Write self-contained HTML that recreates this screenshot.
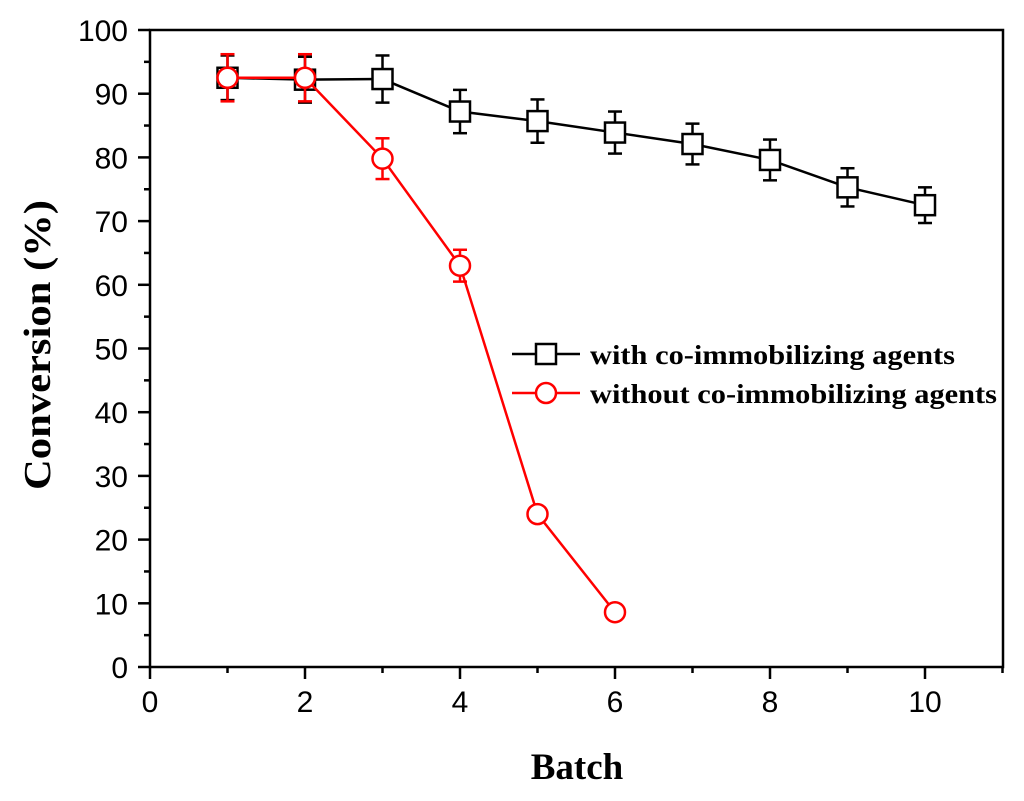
<!DOCTYPE html>
<html><head><meta charset="utf-8"><style>body{margin:0;background:#fff}svg{display:block}</style></head>
<body>
<svg id="chart" width="1024" height="801" xmlns="http://www.w3.org/2000/svg"></svg>
<script>
const batches = [1,2,3,4,5,6,7,8,9,10];
const withAgents = [92.5,92.2,92.3,87.2,85.7,83.9,82.1,79.6,75.3,72.5];
const withErr = [3.5,3.6,3.7,3.4,3.4,3.3,3.2,3.2,3.0,2.8];
const batchesRed = [1,2,3,4,5,6];
const withoutAgents = [92.5,92.5,79.8,63.0,24.0,8.6];
const withoutErr = [3.7,3.7,3.2,2.5,0.8,0.8];
const xTicks = [0,2,4,6,8,10];
const yTicks = [0,10,20,30,40,50,60,70,80,90,100];

const L=150,R=1003,T=30,B=667;
const X=v=>L+v*77.5, Y=v=>B-(v/100)*(B-T);
const svg=document.getElementById('chart');
const NS='http://www.w3.org/2000/svg';
function mk(tag,attrs,name,parent){const e=document.createElementNS(NS,tag);for(const k in attrs)e.setAttribute(k,attrs[k]);


(parent||svg).appendChild(e);return e;}

mk('rect',{x:L,y:T,width:R-L,height:B-T,fill:'none',stroke:'#000','stroke-width':2.5},'plot-frame');
for(let v=0;v<=11;v++){const len=v%2===0?12:6;mk('line',{x1:X(v),x2:X(v),y1:B,y2:B+len,stroke:'#000','stroke-width':2.5},'x-tick');}
for(let v=0;v<=100;v+=5){const len=v%10===0?12:6;mk('line',{x1:L,x2:L-len,y1:Y(v),y2:Y(v),stroke:'#000','stroke-width':2.5},'y-tick');}
xTicks.forEach(v=>{const t=mk('text',{x:X(v),y:B+45,'text-anchor':'middle','font-family':'Liberation Sans, sans-serif','font-size':30},'x-tick-label');t.textContent=v;});
yTicks.forEach(v=>{const t=mk('text',{x:L-22,y:Y(v)+11,'text-anchor':'end','font-family':'Liberation Sans, sans-serif','font-size':30},'y-tick-label');t.textContent=v;});
let t=mk('text',{x:577,y:779,'text-anchor':'middle','font-family':'Liberation Serif, serif','font-weight':'bold','font-size':37},'x-axis-title');t.textContent='Batch';
t=mk('text',{x:0,y:0,transform:'translate(50,345) rotate(-90)','text-anchor':'middle','font-family':'Liberation Serif, serif','font-weight':'bold','font-size':38,'textLength':290,'lengthAdjust':'spacingAndGlyphs'},'y-axis-title');t.textContent='Conversion (%)';

function series(xs,ys,es,color,shape,name){
  const g=mk('g',{},name+'-series');
  mk('polyline',{points:xs.map((x,i)=>X(x)+','+Y(ys[i])).join(' '),fill:'none',stroke:color,'stroke-width':2.5},name+'-line',g);
  xs.forEach((x,i)=>{
    const cx=X(x),cy=Y(ys[i]),y1=Y(ys[i]+es[i]),y2=Y(ys[i]-es[i]);
    mk('line',{x1:cx,x2:cx,y1:y1,y2:y2,stroke:color,'stroke-width':2.5},name+'-error-bar',g);
    mk('line',{x1:cx-7,x2:cx+7,y1:y1,y2:y1,stroke:color,'stroke-width':2.5},name+'-error-cap',g);
    mk('line',{x1:cx-7,x2:cx+7,y1:y2,y2:y2,stroke:color,'stroke-width':2.5},name+'-error-cap',g);
    if(shape==='sq')mk('rect',{x:cx-10,y:cy-10,width:20,height:20,fill:'#fff',stroke:color,'stroke-width':2.5},name+'-marker',g);
    else mk('circle',{cx:cx,cy:cy,r:10,fill:'#fff',stroke:color,'stroke-width':2.5},name+'-marker',g);
  });
}
series(batches,withAgents,withErr,'#000','sq','with-agents');
series(batchesRed,withoutAgents,withoutErr,'#f00','ci','without-agents');

const lg=mk('g',{},'legend');
mk('line',{x1:512,x2:580,y1:354,y2:354,stroke:'#000','stroke-width':2.5},'legend-line-with',lg);
mk('rect',{x:536,y:344,width:20,height:20,fill:'#fff',stroke:'#000','stroke-width':2.5},'legend-marker-with',lg);
t=mk('text',{x:590,y:364,'font-family':'Liberation Serif, serif','font-weight':'bold','font-size':27,'textLength':365,'lengthAdjust':'spacingAndGlyphs'},'legend-label-with',lg);t.textContent='with co-immobilizing agents';
mk('line',{x1:512,x2:580,y1:393,y2:393,stroke:'#f00','stroke-width':2.5},'legend-line-without',lg);
mk('circle',{cx:546,cy:393,r:10,fill:'#fff',stroke:'#f00','stroke-width':2.5},'legend-marker-without',lg);
t=mk('text',{x:590,y:403,'font-family':'Liberation Serif, serif','font-weight':'bold','font-size':27,'textLength':407,'lengthAdjust':'spacingAndGlyphs'},'legend-label-without',lg);t.textContent='without co-immobilizing agents';
</script>
</body></html>
